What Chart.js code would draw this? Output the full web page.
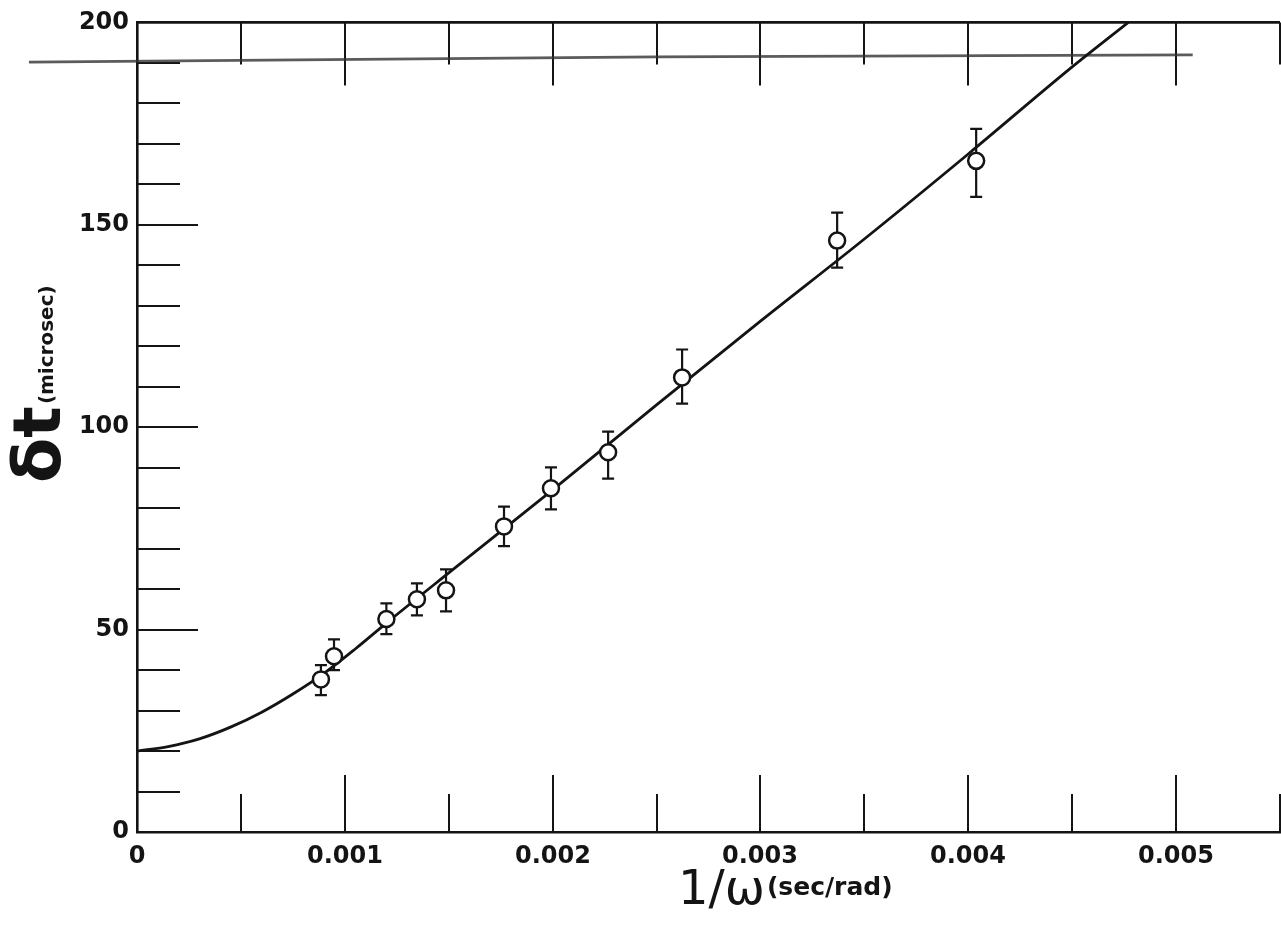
<!DOCTYPE html>
<html>
<head>
<meta charset="utf-8">
<script src="https://cdn.jsdelivr.net/npm/chart.js@4.4.1/dist/chart.umd.min.js"></script>
<style>
  html, body { margin: 0; padding: 0; background: #fff; }
  canvas { display: block; }
</style>
</head>
<body>
<canvas id="plot" width="1281" height="933"></canvas>
<script>
// measured points: 1/omega (sec/rad) vs delta t (microsec), with error bar ends
const omegaInv = [0.000885, 0.000948, 0.00120, 0.001347, 0.001487, 0.001766, 0.001992, 0.002267, 0.002623, 0.003369, 0.004038];
const deltaT   = [37.7, 43.4, 52.6, 57.5, 59.7, 75.5, 84.9, 93.8, 112.3, 146.1, 165.8];
const errLow   = [33.8, 40.0, 48.9, 53.5, 54.5, 70.6, 79.7, 87.3, 105.8, 139.4, 156.9];
const errHigh  = [41.2, 47.6, 56.5, 61.4, 64.9, 80.4, 90.1, 98.9, 119.2, 153.0, 173.7];

// drawn fit curve
const fitX = [0, 0.00015, 0.0003, 0.00045, 0.0006, 0.00075, 0.0009, 0.00105, 0.0012, 0.0015, 0.002, 0.0025, 0.003, 0.0035, 0.004, 0.0045, 0.00477];
const fitY = [20, 21.1, 23.0, 25.9, 29.6, 34.1, 39.2, 45.2, 51.6, 64, 84.5, 105.5, 126.2, 146.5, 167.5, 189, 200];

// stray pencil line across the top of the scan
const strayX = [-0.00052, 0.0025, 0.00508];
const strayY = [190.2, 191.5, 192.0];

const INK = "#141414";

function pts(xs, ys) {
  return xs.map((x, i) => ({ x: x, y: ys[i] }));
}

function isMajorX(v) {
  return Math.abs(v * 1000 - Math.round(v * 1000)) < 1e-6;
}

/* inward ticks, top frame line, error bars, axis titles */
const frame = {
  id: "frame",
  beforeDatasetsDraw(chart) {
    const { ctx, chartArea: a, scales: { x, y } } = chart;
    ctx.save();
    ctx.strokeStyle = INK;
    ctx.lineWidth = 2.6;
    ctx.beginPath();
    ctx.moveTo(a.left, a.top);
    ctx.lineTo(a.right, a.top);
    ctx.stroke();

    ctx.lineWidth = 2;
    ctx.fillStyle = INK;
    ctx.font = 'bold 24px "DejaVu Sans"';
    ctx.textAlign = "center";
    ctx.textBaseline = "top";
    x.ticks.forEach(t => {
      const px = Math.round(x.getPixelForValue(t.value));
      const major = isMajorX(t.value);
      if (major) {
        ctx.fillText(t.value === 0 ? "0" : t.value.toFixed(3), px, a.bottom + 13);
      }
      if (t.value <= 0) return;
      ctx.beginPath();
      ctx.moveTo(px, a.bottom);
      ctx.lineTo(px, a.bottom - (major ? 57 : 38));
      ctx.moveTo(px, a.top);
      ctx.lineTo(px, a.top + (major ? 63 : 42));
      ctx.stroke();
    });
    y.ticks.forEach(t => {
      if (t.value <= 0 || t.value >= 200) return;
      const py = Math.round(y.getPixelForValue(t.value));
      ctx.beginPath();
      ctx.moveTo(a.left, py);
      ctx.lineTo(a.left + (t.value % 50 === 0 ? 61 : 43), py);
      ctx.stroke();
    });

    ctx.lineWidth = 2.2;
    omegaInv.forEach((v, i) => {
      const px = x.getPixelForValue(v);
      const top = y.getPixelForValue(errHigh[i]);
      const bot = y.getPixelForValue(errLow[i]);
      ctx.beginPath();
      ctx.moveTo(px, top);
      ctx.lineTo(px, bot);
      ctx.moveTo(px - 6, top);
      ctx.lineTo(px + 6, top);
      ctx.moveTo(px - 6, bot);
      ctx.lineTo(px + 6, bot);
      ctx.stroke();
    });
    ctx.restore();
  },
  afterDraw(chart) {
    const ctx = chart.ctx;
    ctx.save();
    ctx.fillStyle = INK;
    ctx.textBaseline = "alphabetic";
    ctx.textAlign = "left";

    // x title
    ctx.font = '48px "DejaVu Sans"';
    ctx.fillText("1/ω", 678, 904);
    const w1 = ctx.measureText("1/ω").width;
    ctx.font = 'bold 25px "DejaVu Sans"';
    ctx.fillText("(sec/rad)", 678 + w1 + 2, 895);

    // y title, rotated
    ctx.translate(60, 483);
    ctx.rotate(-Math.PI / 2);
    ctx.font = 'bold 66px "DejaVu Sans"';
    ctx.fillText("δt", 0, 0);
    const w2 = ctx.measureText("δt").width;
    ctx.font = 'bold 20px "DejaVu Sans"';
    ctx.fillText("(microsec)", w2 + 2, -7);
    ctx.restore();
  }
};

new Chart(document.getElementById("plot"), {
  type: "scatter",
  data: {
    datasets: [
      {
        data: pts(omegaInv, deltaT),
        order: 0,
        pointStyle: "circle",
        pointRadius: 8,
        pointBorderWidth: 2.5,
        pointBackgroundColor: "#fff",
        pointBorderColor: INK,
        showLine: false
      },
      {
        type: "line",
        data: pts(fitX, fitY),
        order: 1,
        borderColor: INK,
        borderWidth: 2.8,
        pointRadius: 0,
        cubicInterpolationMode: "monotone",
        fill: false
      },
      {
        type: "line",
        data: pts(strayX, strayY),
        order: 2,
        borderColor: "rgba(50,50,50,0.8)",
        borderWidth: 2.8,
        pointRadius: 0,
        tension: 0,
        clip: false,
        fill: false
      }
    ]
  },
  options: {
    responsive: false,
    animation: false,
    devicePixelRatio: 1,
    layout: { autoPadding: false, padding: { top: 21, right: 1, left: 0, bottom: 0 } },
    plugins: { legend: { display: false }, tooltip: { enabled: false } },
    scales: {
      x: {
        type: "linear",
        min: 0,
        max: 0.0055,
        afterFit: s => { s.height = 101; },
        grid: { display: false, drawTicks: false },
        border: { display: true, color: INK, width: 2.6 },
        ticks: {
          display: false,
          stepSize: 0.0005,
          autoSkip: false
        }
      },
      y: {
        type: "linear",
        min: 0,
        max: 200,
        afterFit: s => { s.width = 137; },
        grid: { display: false, drawTicks: false },
        border: { display: true, color: INK, width: 2.6 },
        ticks: {
          stepSize: 10,
          autoSkip: false,
          padding: 8,
          color: INK,
          font: { family: "DejaVu Sans", size: 24, weight: "bold" },
          callback: v => (v % 50 === 0 ? String(v) : "")
        }
      }
    }
  },
  plugins: [frame]
});
</script>
</body>
</html>
